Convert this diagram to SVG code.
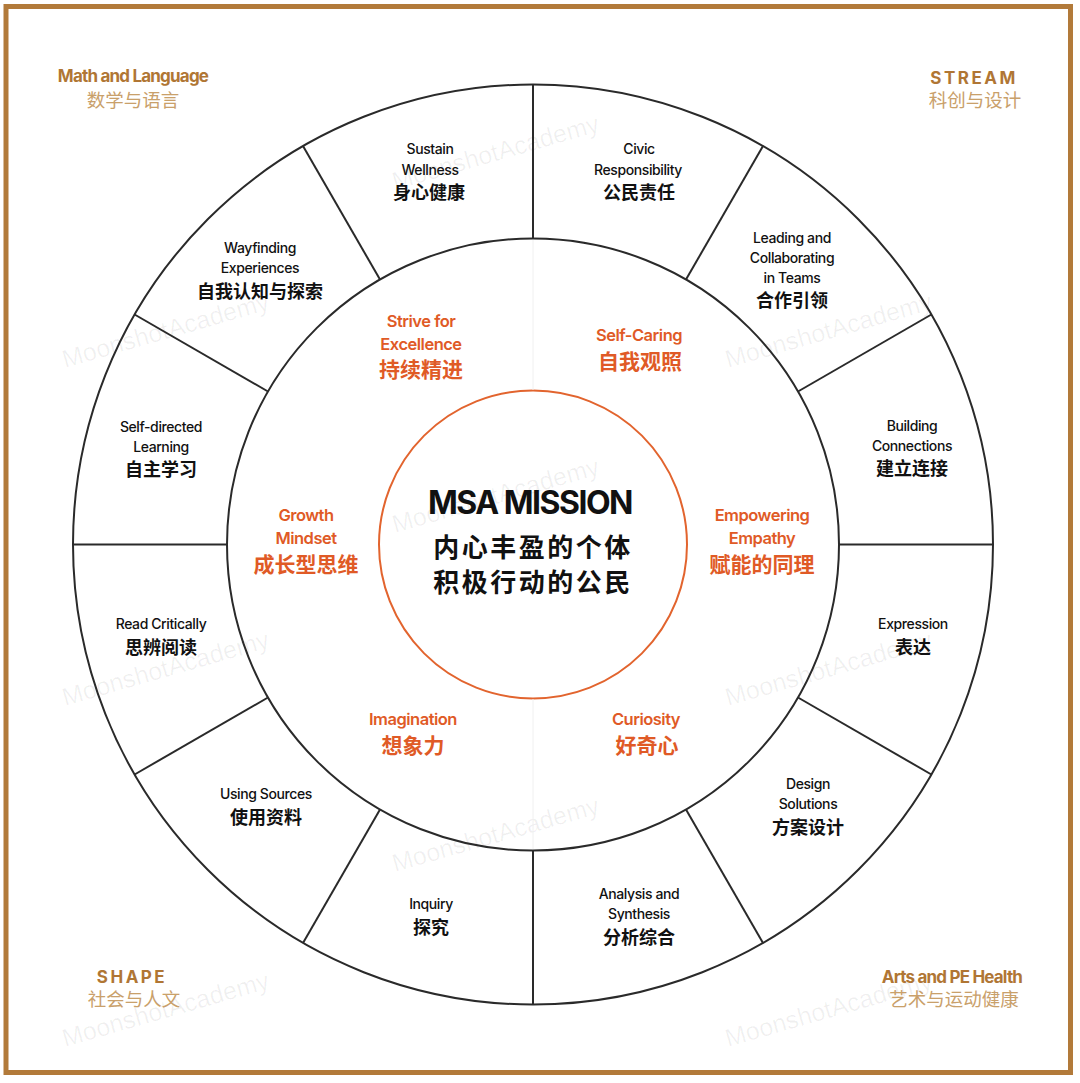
<svg xmlns="http://www.w3.org/2000/svg" width="1080" height="1083" viewBox="0 0 1080 1083">
<style>
text{font-family:"Inter","Noto Sans CJK SC",sans-serif;text-anchor:middle}
.en{font-size:14px;font-weight:500;fill:#111;letter-spacing:-0.4px}
.cn{font-size:18px;font-weight:700;fill:#111;font-family:"Noto Sans CJK SC",sans-serif}
.ien{font-size:16.5px;font-weight:600;fill:#e05a26;letter-spacing:-0.5px}
.icn{font-size:21px;font-weight:700;fill:#e05a26;font-family:"Noto Sans CJK SC",sans-serif}
.cen{font-size:17px;font-weight:700;fill:#b07634;letter-spacing:-0.8px}
.ccn{font-size:18.5px;font-weight:400;fill:#c9a06a;font-family:"Noto Sans CJK SC",sans-serif}
.wm{font-family:"Liberation Sans",sans-serif;font-size:25px;fill:#000;fill-opacity:0.06;text-anchor:start}
.ring{fill:none;stroke:#2a2a2a;stroke-width:2}
.spoke{stroke:#2a2a2a;stroke-width:2}
</style>
<rect x="0" y="0" width="1080" height="1083" fill="#ffffff"/>
<rect x="6" y="6.5" width="1064.5" height="1066" fill="none" stroke="#b27a3a" stroke-width="5"/>

<g id="watermarks">
<text class="wm" transform="translate(395,190) rotate(-16)">MoonshotAcademy</text>
<text class="wm" transform="translate(65,368) rotate(-16)">MoonshotAcademy</text>
<text class="wm" transform="translate(728,368) rotate(-16)">MoonshotAcademy</text>
<text class="wm" transform="translate(395,533) rotate(-16)">MoonshotAcademy</text>
<text class="wm" transform="translate(65,706) rotate(-16)">MoonshotAcademy</text>
<text class="wm" transform="translate(728,706) rotate(-16)">MoonshotAcademy</text>
<text class="wm" transform="translate(395,872) rotate(-16)">MoonshotAcademy</text>
<text class="wm" transform="translate(65,1047) rotate(-16)">MoonshotAcademy</text>
<text class="wm" transform="translate(728,1047) rotate(-16)">MoonshotAcademy</text>
</g>

<g id="corner-math">
<text class="cen" x="133" y="82">Math and Language</text>
<text class="ccn" x="133" y="107">数学与语言</text>
</g>
<g id="corner-stream">
<text class="cen" x="974" y="84" style="letter-spacing:2.5px">STREAM</text>
<text class="ccn" x="975" y="107">科创与设计</text>
</g>
<g id="corner-shape">
<text class="cen" x="132" y="983" style="letter-spacing:2.5px">SHAPE</text>
<text class="ccn" x="134" y="1006">社会与人文</text>
</g>
<g id="corner-arts">
<text class="cen" x="952" y="983">Arts and PE Health</text>
<text class="ccn" x="954" y="1006">艺术与运动健康</text>
</g>

<g id="connectors">
<circle class="ring" cx="533" cy="544.5" r="460"/>
<circle class="ring" cx="533" cy="544.5" r="306"/>
<circle cx="533" cy="544.5" r="154" fill="none" stroke="#e2642e" stroke-width="2"/>
<line class="spoke" x1="839" y1="544.5" x2="993" y2="544.5"/>
<line class="spoke" x1="798" y1="697.5" x2="931.4" y2="774.5"/>
<line class="spoke" x1="686" y1="809.5" x2="763" y2="942.9"/>
<line class="spoke" x1="533" y1="850.5" x2="533" y2="1004.5"/>
<line class="spoke" x1="380" y1="809.5" x2="303" y2="942.9"/>
<line class="spoke" x1="268" y1="697.5" x2="134.6" y2="774.5"/>
<line class="spoke" x1="227" y1="544.5" x2="73" y2="544.5"/>
<line class="spoke" x1="268" y1="391.5" x2="134.6" y2="314.5"/>
<line class="spoke" x1="380" y1="279.5" x2="303" y2="146.1"/>
<line class="spoke" x1="533" y1="238.5" x2="533" y2="84.5"/>
<line class="spoke" x1="686" y1="279.5" x2="763" y2="146.1"/>
<line class="spoke" x1="798" y1="391.5" x2="931.4" y2="314.5"/>
<line x1="533" y1="240" x2="533" y2="390" stroke="#f0f0f0" stroke-width="1"/>
<line x1="533" y1="699" x2="533" y2="849" stroke="#f0f0f0" stroke-width="1"/>
</g>

<g id="center">
<text x="530" y="514" style="font-size:32px;font-weight:700;fill:#111;letter-spacing:-1.5px">MSA MISSION</text>
<text x="533" y="557" style="font-size:26px;font-weight:700;fill:#111;letter-spacing:2.5px;font-family:'Noto Sans CJK SC',sans-serif">内心丰盈的个体</text>
<text x="533" y="592" style="font-size:26px;font-weight:700;fill:#111;letter-spacing:2.5px;font-family:'Noto Sans CJK SC',sans-serif">积极行动的公民</text>
</g>

<g id="inner-strive">
<text class="ien" x="421" y="327">Strive for</text>
<text class="ien" x="421" y="350">Excellence</text>
<text class="icn" x="421" y="377">持续精进</text>
</g>
<g id="inner-selfcaring">
<text class="ien" x="639" y="341">Self-Caring</text>
<text class="icn" x="640" y="369">自我观照</text>
</g>
<g id="inner-empathy">
<text class="ien" x="762" y="521">Empowering</text>
<text class="ien" x="762" y="544">Empathy</text>
<text class="icn" x="762" y="572">赋能的同理</text>
</g>
<g id="inner-curiosity">
<text class="ien" x="646" y="725">Curiosity</text>
<text class="icn" x="647" y="753">好奇心</text>
</g>
<g id="inner-imagination">
<text class="ien" x="413" y="725">Imagination</text>
<text class="icn" x="413" y="753">想象力</text>
</g>
<g id="inner-growth">
<text class="ien" x="306" y="521">Growth</text>
<text class="ien" x="306" y="544">Mindset</text>
<text class="icn" x="306" y="572">成长型思维</text>
</g>

<g id="outer-sustain">
<text class="en" x="430" y="154">Sustain</text>
<text class="en" x="430" y="175">Wellness</text>
<text class="cn" x="429" y="199">身心健康</text>
</g>
<g id="outer-civic">
<text class="en" x="639" y="154">Civic</text>
<text class="en" x="638" y="175">Responsibility</text>
<text class="cn" x="639" y="199">公民责任</text>
</g>
<g id="outer-leading">
<text class="en" x="792" y="243">Leading and</text>
<text class="en" x="792" y="263">Collaborating</text>
<text class="en" x="792" y="283">in Teams</text>
<text class="cn" x="792" y="307">合作引领</text>
</g>
<g id="outer-building">
<text class="en" x="912" y="431">Building</text>
<text class="en" x="912" y="451">Connections</text>
<text class="cn" x="912" y="475">建立连接</text>
</g>
<g id="outer-expression">
<text class="en" x="913" y="629">Expression</text>
<text class="cn" x="913" y="654">表达</text>
</g>
<g id="outer-design">
<text class="en" x="808" y="789">Design</text>
<text class="en" x="808" y="809">Solutions</text>
<text class="cn" x="808" y="834">方案设计</text>
</g>
<g id="outer-analysis">
<text class="en" x="639" y="899">Analysis and</text>
<text class="en" x="639" y="919">Synthesis</text>
<text class="cn" x="639" y="944">分析综合</text>
</g>
<g id="outer-inquiry">
<text class="en" x="431" y="909">Inquiry</text>
<text class="cn" x="431" y="934">探究</text>
</g>
<g id="outer-sources">
<text class="en" x="266" y="799">Using Sources</text>
<text class="cn" x="266" y="824">使用资料</text>
</g>
<g id="outer-read">
<text class="en" x="161" y="629">Read Critically</text>
<text class="cn" x="161" y="654">思辨阅读</text>
</g>
<g id="outer-selfdirected">
<text class="en" x="161" y="432">Self-directed</text>
<text class="en" x="161" y="452">Learning</text>
<text class="cn" x="161" y="476">自主学习</text>
</g>
<g id="outer-wayfinding">
<text class="en" x="260" y="253">Wayfinding</text>
<text class="en" x="260" y="273">Experiences</text>
<text class="cn" x="260" y="298">自我认知与探索</text>
</g>
</svg>
